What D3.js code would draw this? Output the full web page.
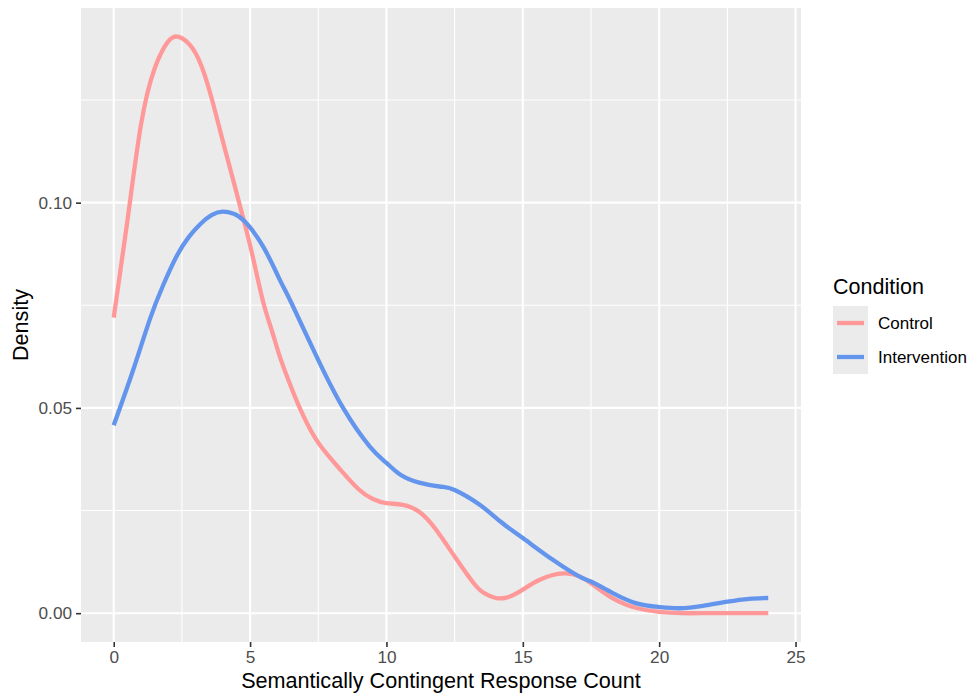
<!DOCTYPE html>
<html>
<head>
<meta charset="utf-8">
<script src="https://cdn.jsdelivr.net/npm/d3@7"></script>
<style>
  html, body { margin: 0; padding: 0; background: #ffffff; }
  svg { display: block; font-family: "Liberation Sans", Arial, sans-serif; }
</style>
</head>
<body>
<svg id="chart" width="969" height="695"></svg>
<script>
// ---- Data ----
const seriesNames = ["Control", "Intervention"];
const seriesColors = ["#FF9999", "#6495ED"];

const controlX = [0, 0.5, 1.0, 1.5, 2.0, 2.38, 2.8, 3.2, 3.6, 4.0, 4.4, 4.78, 5.1, 5.48, 5.8, 6.09, 6.45, 6.82, 7.43, 8.2, 8.96, 9.5, 10.0, 10.6, 11.2, 11.8, 12.5, 13.2, 13.6, 14.0, 14.4, 14.9, 15.6, 16.5, 17.1, 17.5, 18.3, 19.2, 20.0, 20.8, 21.8, 23.0, 24.0];
const controlY = [0.0720, 0.0955, 0.1190, 0.1327, 0.1393, 0.1404, 0.1384, 0.1336, 0.1252, 0.1150, 0.1050, 0.0954, 0.0868, 0.0758, 0.0688, 0.0625, 0.0560, 0.0500, 0.0422, 0.0358, 0.0303, 0.0278, 0.0268, 0.0264, 0.0247, 0.0205, 0.0138, 0.0073, 0.0048, 0.0037, 0.0038, 0.0053, 0.0081, 0.0097, 0.0089, 0.0073, 0.0036, 0.0012, 0.0003, 0.0000, 0.0000, 0.0000, 0.0000];

const interventionX = [0, 0.7, 1.33, 1.8, 2.31, 2.75, 3.16, 3.6, 4.0, 4.4, 4.81, 5.48, 6.09, 6.52, 7.44, 8.41, 9.39, 10.0, 10.5, 11.2, 12.0, 12.5, 13.42, 14.2, 15.0, 16.1, 17.08, 17.5, 18.3, 19.17, 20.0, 20.75, 21.6, 22.5, 23.3, 24.0];
const interventionY = [0.0458, 0.0590, 0.0717, 0.0797, 0.0870, 0.0916, 0.0947, 0.0970, 0.0978, 0.0973, 0.0954, 0.0893, 0.0812, 0.0755, 0.0625, 0.0500, 0.0406, 0.0366, 0.0338, 0.0318, 0.0308, 0.0300, 0.0264, 0.0222, 0.0183, 0.0130, 0.0089, 0.0077, 0.0049, 0.0024, 0.0015, 0.0012, 0.0018, 0.0028, 0.0035, 0.0037];

const xTicks = [0, 5, 10, 15, 20, 25];
const xMinor = [2.5, 7.5, 12.5, 17.5, 22.5];
const yTicks = [0.00, 0.05, 0.10];
const yMinor = [0.025, 0.075, 0.125];
const xTitle = "Semantically Contingent Response Count";
const yTitle = "Density";
const legendTitle = "Condition";

// ---- Layout ----
const panel = { left: 81, right: 801, top: 8, bottom: 642 };
const svg = d3.select("#chart");

const series = [
  { name: seriesNames[0], color: seriesColors[0], pts: controlX.map((x, i) => [x, controlY[i]]) },
  { name: seriesNames[1], color: seriesColors[1], pts: interventionX.map((x, i) => [x, interventionY[i]]) }
];

const allX = controlX.concat(interventionX);
const allY = controlY.concat(interventionY);
const xMin = d3.min(allX), xMax = d3.max(allX);
const yMin = 0, yMax = d3.max(allY);
const xPad = (xMax - xMin) * 0.05, yPad = (yMax - yMin) * 0.05;

const x = d3.scaleLinear().domain([xMin - xPad, xMax + xPad]).range([panel.left, panel.right]);
const y = d3.scaleLinear().domain([yMin - yPad, yMax + yPad]).range([panel.bottom, panel.top]);

// panel background
svg.append("rect")
  .attr("x", panel.left).attr("y", panel.top)
  .attr("width", panel.right - panel.left).attr("height", panel.bottom - panel.top)
  .attr("fill", "#EBEBEB");

const grid = svg.append("g");
grid.selectAll(".xminor").data(xMinor).join("line")
  .attr("x1", d => x(d)).attr("x2", d => x(d))
  .attr("y1", panel.top).attr("y2", panel.bottom)
  .attr("stroke", "#ffffff").attr("stroke-width", 1.1);
grid.selectAll(".yminor").data(yMinor).join("line")
  .attr("y1", d => y(d)).attr("y2", d => y(d))
  .attr("x1", panel.left).attr("x2", panel.right)
  .attr("stroke", "#ffffff").attr("stroke-width", 1.1);
grid.selectAll(".xmajor").data(xTicks).join("line")
  .attr("x1", d => x(d)).attr("x2", d => x(d))
  .attr("y1", panel.top).attr("y2", panel.bottom)
  .attr("stroke", "#ffffff").attr("stroke-width", 2.1);
grid.selectAll(".ymajor").data(yTicks).join("line")
  .attr("y1", d => y(d)).attr("y2", d => y(d))
  .attr("x1", panel.left).attr("x2", panel.right)
  .attr("stroke", "#ffffff").attr("stroke-width", 2.1);

// curves
const line = d3.line().x(d => x(d[0])).y(d => y(d[1])).curve(d3.curveNatural);
svg.append("g").selectAll("path").data(series).join("path")
  .attr("d", d => line(d.pts))
  .attr("fill", "none")
  .attr("stroke", d => d.color)
  .attr("stroke-width", 4.3)
  .attr("stroke-linejoin", "round");

// axes
const xAxis = svg.append("g")
  .attr("transform", `translate(0,${panel.bottom})`)
  .call(d3.axisBottom(x).tickValues(xTicks).tickSize(5).tickPadding(4).tickFormat(d3.format("d")));
const yAxis = svg.append("g")
  .attr("transform", `translate(${panel.left},0)`)
  .call(d3.axisLeft(y).tickValues(yTicks).tickSize(5).tickPadding(4).tickFormat(d3.format(".2f")));
[xAxis, yAxis].forEach(a => {
  a.select(".domain").remove();
  a.selectAll(".tick line").attr("stroke", "#333333").attr("stroke-width", 1.6);
  a.selectAll(".tick text").attr("fill", "#4D4D4D").style("font-size", "17.2px")
    .style("font-family", "'Liberation Sans', Arial, sans-serif");
});

// axis titles
svg.append("text")
  .attr("x", (panel.left + panel.right) / 2).attr("y", 688)
  .attr("text-anchor", "middle").attr("fill", "#000")
  .style("font-size", "21.6px").text(xTitle);
svg.append("text")
  .attr("transform", `translate(28,${(panel.top + panel.bottom) / 2}) rotate(-90)`)
  .attr("text-anchor", "middle").attr("fill", "#000")
  .style("font-size", "21.6px").text(yTitle);

// legend
const leg = svg.append("g");
leg.append("text").attr("x", 833).attr("y", 294).attr("fill", "#000")
  .style("font-size", "21.5px").text(legendTitle);
const keyH = 34, keyTop = 306;
const keys = leg.selectAll("g.key").data(series).join("g")
  .attr("transform", (d, i) => `translate(833,${keyTop + i * keyH})`);
keys.append("rect").attr("width", 35).attr("height", keyH).attr("fill", "#EBEBEB");
keys.append("line").attr("x1", 4).attr("x2", 31).attr("y1", keyH / 2).attr("y2", keyH / 2)
  .attr("stroke", d => d.color).attr("stroke-width", 4.3);
keys.append("text").attr("x", 45).attr("y", keyH / 2).attr("dy", "0.35em")
  .attr("fill", "#000").style("font-size", "17px").text(d => d.name);
</script>
</body>
</html>
